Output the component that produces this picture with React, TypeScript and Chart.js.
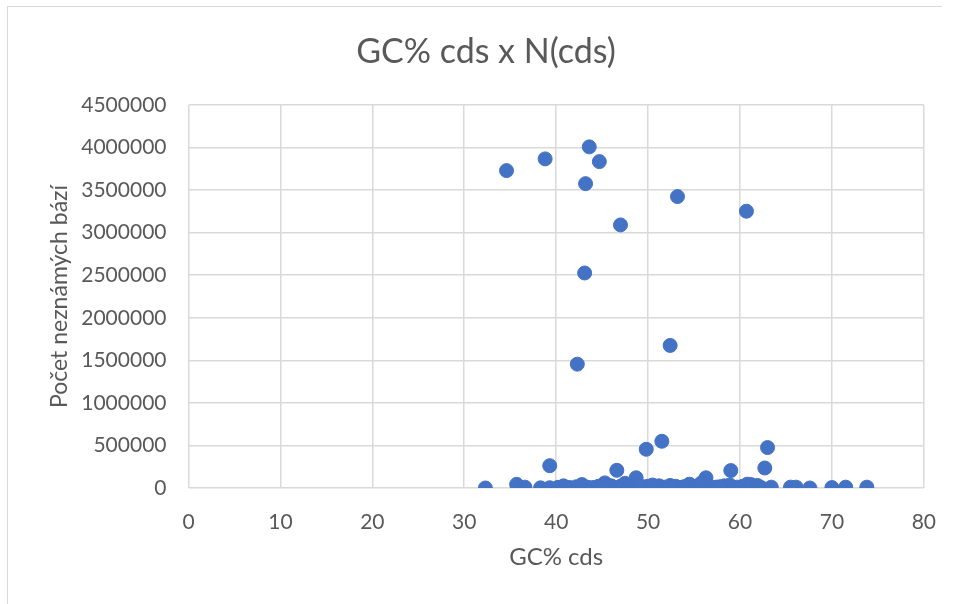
import React, { useEffect, useRef } from "react";
import { Chart, registerables } from "chart.js";

Chart.register(...registerables);

const chartTitle = "GC% cds x N(cds)";
const xAxisTitle = "GC% cds";
const yAxisTitle = "Počet neznámých bází";

// GC% of coding sequences
const gcValues: number[] = [
  34.6, 38.8, 43.6, 44.7, 43.2, 53.2, 60.7, 47.0, 43.1, 52.4, 42.3,
  39.3, 49.8, 51.5, 63.0, 62.7, 59.0, 46.6, 48.7, 56.3,
  32.3, 35.7, 36.6, 38.3, 39.3, 40.2, 40.8, 41.5, 42.2, 42.8, 43.4, 44.0,
  44.6, 45.3, 45.6, 46.0, 46.4, 47.0, 47.5, 47.9, 48.3, 48.9, 49.5, 50.0,
  50.5, 51.2, 51.8, 52.4, 53.0, 53.5, 53.9, 54.5, 55.2, 55.8, 56.5, 57.0,
  57.4, 58.3, 58.9, 59.3, 59.7, 60.3, 60.8, 61.2, 61.9, 62.3, 63.4, 65.5,
  66.1, 67.6, 70.0, 71.5, 73.8, 45.0, 49.0, 54.0, 57.8, 41.0,
];

// Number of unknown bases N(cds)
const nValues: number[] = [
  3729000, 3867000, 4008000, 3835000, 3576000, 3424000, 3252000, 3091000, 2526000, 1675000, 1455000,
  262000, 455000, 549000, 475000, 235000, 205000, 208000, 120000, 120000,
  0, 43000, 10000, 2000, 3000, 8000, 25000, 5000, 15000, 40000, 10000, 5000,
  20000, 60000, 8000, 25000, 2000, 20000, 55000, 10000, 5000, 25000, 15000, 20000,
  35000, 25000, 10000, 30000, 20000, 5000, 15000, 45000, 20000, 60000, 15000, 5000,
  10000, 25000, 35000, 5000, 10000, 20000, 45000, 40000, 30000, 5000, 10000, 10000,
  10000, 0, 5000, 10000, 10000, 15000, 20000, 10000, 15000, 10000,
];

const xTicks = { min: 0, max: 80, step: 10 };
const yTicks = { min: 0, max: 4500000, step: 500000 };

const FONT = "Lato, 'Open Sans', sans-serif";
const TEXT = "#595959";
const GRID = "#d9d9d9";
const BLUE = "#4472C4";

export default function App() {
  const ref = useRef<HTMLCanvasElement | null>(null);

  useEffect(() => {
    if (!ref.current) return;
    const points = gcValues.map((x, i) => ({ x, y: nValues[i] }));
    const chart = new Chart(ref.current, {
      type: "scatter",
      data: {
        datasets: [
          {
            label: "N(cds)",
            data: points,
            backgroundColor: BLUE,
            borderColor: BLUE,
            borderWidth: 1,
            pointRadius: 7,
            pointHoverRadius: 7,
          },
        ],
      },
      options: {
        responsive: false,
        animation: false,
        devicePixelRatio: 1,
        layout: { padding: { left: 14, right: 0, top: 0, bottom: 0 } },
        plugins: {
          legend: { display: false },
          tooltip: { enabled: false },
          title: {
            display: true,
            text: chartTitle,
            color: TEXT,
            font: { family: FONT, size: 34, weight: "normal" },
            padding: { top: 31.6, bottom: 32.6 },
          },
        },
        scales: {
          x: {
            type: "linear",
            min: xTicks.min,
            max: xTicks.max,
            afterFit: (s: any) => {
              s.height = 116;
            },
            ticks: {
              stepSize: xTicks.step,
              color: TEXT,
              padding: 22,
              font: { family: FONT, size: 21 },
              callback: (v: any) => String(v),
            },
            grid: { color: GRID, lineWidth: 1.5, drawTicks: false },
            border: { display: false },
            title: {
              display: true,
              text: xAxisTitle,
              color: TEXT,
              font: { family: FONT, size: 24 },
              padding: { top: 0, bottom: 32.6 },
            },
          },
          y: {
            type: "linear",
            min: yTicks.min,
            max: yTicks.max,
            afterFit: (s: any) => {
              s.width = 174.5;
            },
            ticks: {
              stepSize: yTicks.step,
              color: TEXT,
              padding: 22,
              font: { family: FONT, size: 21 },
              callback: (v: any) => String(v),
            },
            grid: { color: GRID, lineWidth: 1.5, drawTicks: false },
            border: { display: false },
            title: {
              display: true,
              text: yAxisTitle,
              color: TEXT,
              font: { family: FONT, size: 23 },
              padding: { top: 32, bottom: 0 },
            },
          },
          yRight: {
            type: "linear",
            position: "right",
            display: true,
            min: yTicks.min,
            max: yTicks.max,
            afterFit: (s: any) => {
              s.width = 24;
            },
            ticks: { display: false },
            grid: { display: false, drawTicks: false },
            border: { display: false },
          },
        },
      },
    });
    return () => chart.destroy();
  }, []);

  return (
    <div style={{ position: "absolute", left: 0, top: 0, width: 958, height: 604, background: "#fff" }}>
      <canvas ref={ref} width={958} height={604} style={{ position: "absolute", left: 0, top: 0 }} />
      <div
        style={{
          position: "absolute",
          left: 7,
          top: 6,
          width: 934,
          height: 598,
          borderLeft: "1px solid #d9d9d9",
          borderTop: "1px solid #d9d9d9",
          pointerEvents: "none",
        }}
      />
    </div>
  );
}
